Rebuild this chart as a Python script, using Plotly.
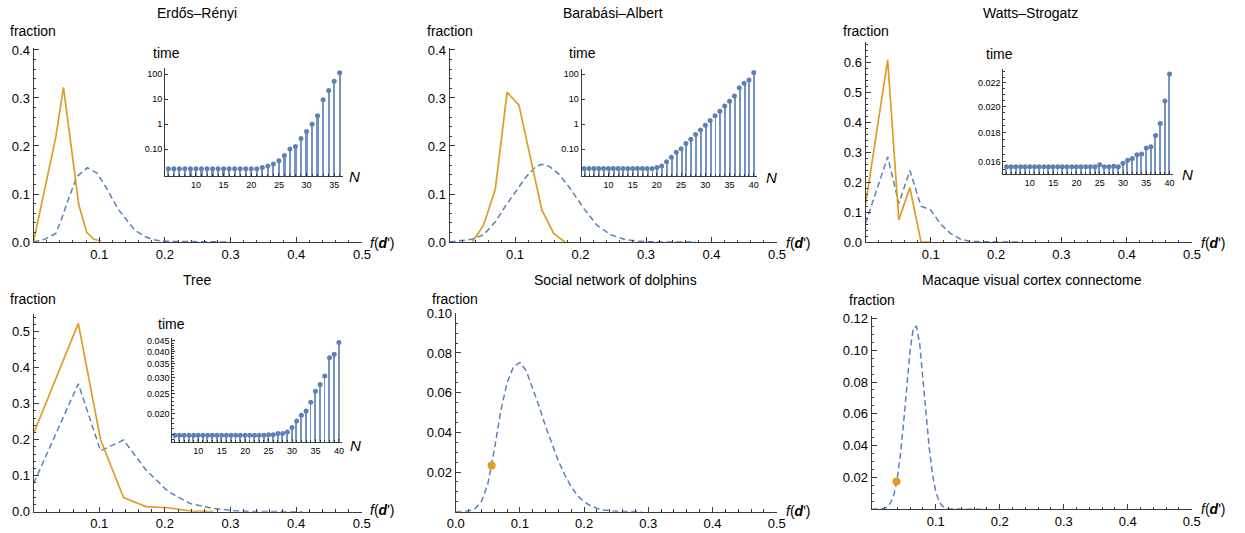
import plotly.graph_objects as go

W, H = 1245, 533

# ---------------- data ----------------
# Erdős–Rényi
er_x_solid = [0.0, 0.034, 0.0456, 0.069, 0.081, 0.092, 0.103]
er_y_solid = [0.0, 0.219, 0.322, 0.077, 0.020, 0.0056, 0.002]
er_x_dash = [0.0, 0.017, 0.034, 0.042, 0.051, 0.066, 0.082, 0.097, 0.113, 0.128, 0.144, 0.154, 0.17, 0.185, 0.2, 0.25, 0.3]
er_y_dash = [0.0, 0.0056, 0.018, 0.045, 0.081, 0.136, 0.155, 0.143, 0.108, 0.07, 0.042, 0.025, 0.011, 0.004, 0.0014, 0.0002, 0.0]
er_N = [5, 6, 7, 8, 9, 10, 11, 12, 13, 14, 15, 16, 17, 18, 19, 20, 21, 22, 23, 24, 25, 26, 27, 28, 29, 30, 31, 32, 33, 34, 35, 36]
er_time = [0.0169, 0.0169, 0.0169, 0.0169, 0.0169, 0.0169, 0.0169, 0.0169, 0.0169, 0.0169, 0.0169, 0.0169,
           0.0169, 0.0169, 0.0169, 0.0169, 0.0169, 0.019, 0.0216, 0.026, 0.035, 0.056, 0.103, 0.128,
           0.267, 0.51, 1.0, 2.15, 9.4, 22.0, 51.0, 112.0]

# Barabási–Albert
ba_x_solid = [0.035, 0.052, 0.070, 0.088, 0.106, 0.141, 0.159, 0.176]
ba_y_solid = [0.0, 0.035, 0.111, 0.312, 0.285, 0.067, 0.018, 0.0]
ba_x_dash = [0.0, 0.034, 0.052, 0.070, 0.085, 0.101, 0.117, 0.132, 0.141, 0.153, 0.168, 0.184, 0.205, 0.225, 0.246, 0.267, 0.288, 0.319, 0.376]
ba_y_dash = [0.0, 0.0056, 0.015, 0.042, 0.074, 0.105, 0.136, 0.157, 0.162, 0.157, 0.14, 0.112, 0.07, 0.035, 0.015, 0.0056, 0.0014, 0.0, 0.0]
ba_N = [5, 6, 7, 8, 9, 10, 11, 12, 13, 14, 15, 16, 17, 18, 19, 20, 21, 22, 23, 24, 25, 26, 27, 28, 29, 30,
        31, 32, 33, 34, 35, 36, 37, 38, 39, 40]
ba_time = [0.017, 0.017, 0.017, 0.017, 0.017, 0.017, 0.017, 0.017, 0.017, 0.017, 0.017, 0.017, 0.017, 0.017,
           0.017, 0.0185, 0.0215, 0.032, 0.048, 0.076, 0.106, 0.169, 0.25, 0.386, 0.59, 0.91, 1.4, 2.2,
           3.3, 5.4, 8.3, 13.6, 29.0, 44.0, 59.0, 117.0]

# Watts–Strogatz
ws_x_solid = [0.0, 0.034, 0.051, 0.068, 0.085, 0.10]
ws_y_solid = [0.124, 0.609, 0.074, 0.182, 0.0, 0.0]
ws_x_dash = [0.0, 0.034, 0.051, 0.068, 0.085, 0.10, 0.115, 0.13, 0.145, 0.16, 0.19, 0.235]
ws_y_dash = [0.062, 0.285, 0.129, 0.239, 0.12, 0.107, 0.06, 0.029, 0.01, 0.002, 0.0005, 0.0]
ws_N = [5, 6, 7, 8, 9, 10, 11, 12, 13, 14, 15, 16, 17, 18, 19, 20, 21, 22, 23, 24, 25, 26, 27, 28, 29, 30,
        31, 32, 33, 34, 35, 36, 37, 38, 39, 40]
ws_time = [0.01568, 0.01568, 0.01568, 0.01568, 0.01568, 0.01568, 0.01568, 0.01568, 0.01568, 0.01568,
           0.01568, 0.01568, 0.01568, 0.01568, 0.01568, 0.01568, 0.01568, 0.01568, 0.01568, 0.01568,
           0.0158, 0.01568, 0.01568, 0.0157, 0.01568, 0.0159, 0.01609, 0.0162, 0.01646, 0.0165,
           0.0169, 0.0170, 0.01778, 0.01867, 0.02043, 0.0228]

# Tree
tr_x_solid = [0.0, 0.068, 0.102, 0.137, 0.171, 0.205, 0.238, 0.274]
tr_y_solid = [0.218, 0.523, 0.199, 0.039, 0.014, 0.011, 0.002, 0.0]
tr_x_dash = [0.0, 0.068, 0.102, 0.137, 0.171, 0.205, 0.238, 0.274, 0.31, 0.34, 0.41]
tr_y_dash = [0.079, 0.355, 0.169, 0.199, 0.116, 0.056, 0.023, 0.009, 0.002, 0.0005, 0.0]
tr_N = [5, 6, 7, 8, 9, 10, 11, 12, 13, 14, 15, 16, 17, 18, 19, 20, 21, 22, 23, 24, 25, 26, 27, 28, 29, 30,
        31, 32, 33, 34, 35, 36, 37, 38, 39, 40]
tr_time = [0.0158, 0.0158, 0.0158, 0.0158, 0.0158, 0.0158, 0.0158, 0.0158, 0.0158, 0.0158,
           0.0158, 0.0158, 0.0158, 0.0158, 0.0158, 0.0158, 0.0158, 0.0158, 0.0158, 0.0158,
           0.0159, 0.0159, 0.0161, 0.0161, 0.01637, 0.01723, 0.01849, 0.0197, 0.02067, 0.02278,
           0.02576, 0.02774, 0.03046, 0.0374, 0.0388, 0.0443]

# Social network of dolphins
do_x = [0.0, 0.01, 0.02, 0.03, 0.04, 0.05, 0.06, 0.07, 0.08, 0.09, 0.10, 0.11, 0.12, 0.13, 0.14, 0.15,
        0.16, 0.17, 0.18, 0.19, 0.20, 0.21, 0.22, 0.23, 0.24, 0.25, 0.26, 0.27, 0.28, 0.29]
do_y = [0.0, 0.0, 0.0003, 0.0015, 0.005, 0.014, 0.031, 0.0505, 0.065, 0.073, 0.0752, 0.071, 0.0625,
        0.053, 0.043, 0.034, 0.0255, 0.0185, 0.0125, 0.008, 0.005, 0.003, 0.0017, 0.0009, 0.0004,
        0.0002, 0.0001, 0.0, 0.0, 0.0]
do_pt_x = [0.056]
do_pt_y = [0.0233]

# Macaque visual cortex connectome
mc_x = [0.0, 0.005, 0.01, 0.015, 0.02, 0.025, 0.03, 0.035, 0.04, 0.045, 0.05, 0.055, 0.06, 0.065,
        0.07, 0.075, 0.08, 0.085, 0.09, 0.095, 0.10, 0.105, 0.11, 0.115, 0.12, 0.13, 0.14, 0.15, 0.16, 0.18]
mc_y = [0.0, 0.0, 0.0, 0.0002, 0.0006, 0.0017, 0.0043, 0.0097, 0.0194, 0.035, 0.055, 0.079, 0.100,
        0.1137, 0.115, 0.104, 0.0837, 0.060, 0.038, 0.022, 0.0113, 0.0051, 0.0021, 0.0008, 0.0003,
        0.00005, 0.0, 0.0, 0.0, 0.0]
mc_pt_x = [0.0387]
mc_pt_y = [0.0174]

titles = ["Erdős–Rényi", "Barabási–Albert", "Watts–Strogatz", "Tree",
          "Social network of dolphins", "Macaque visual cortex connectome"]

# ---------------- style ----------------
BLUE = "#5E81B5"
STEM = "rgba(94,129,181,0.85)"
ORANGE = "#E19C24"
AX = "#3a3a3a"
FONT = "Liberation Sans"


def px(x):
    return x / W


def py(y):
    return 1 - y / H


fig = go.Figure()
layout = {}


def main_axes(n, x0, x1, ybot, ytop, yrange, yvals, ytext, xvals, xtext, yminor):
    sfx = "" if n == 1 else str(n)
    layout["xaxis" + sfx] = dict(
        domain=[px(x0), px(x1)], range=[0, 0.5], anchor="y" + sfx, automargin=False,
        showline=True, linecolor=AX, linewidth=1, ticks="inside", ticklen=5, tickwidth=1,
        tickcolor=AX, tickmode="array", tickvals=xvals, ticktext=xtext,
        minor=dict(tickmode="linear", tick0=0, dtick=0.02, ticks="inside", ticklen=2.5, tickcolor=AX),
        showgrid=False, zeroline=False, fixedrange=True,
        tickfont=dict(family=FONT, size=13, color="black"))
    layout["yaxis" + sfx] = dict(
        domain=[py(ybot), py(ytop)], range=yrange, anchor="x" + sfx, automargin=False,
        showline=True, linecolor=AX, linewidth=1, ticks="inside", ticklen=5, tickwidth=1,
        tickcolor=AX, tickmode="array", tickvals=yvals, ticktext=ytext,
        minor=dict(tickmode="linear", tick0=0, dtick=yminor, ticks="inside", ticklen=2.5, tickcolor=AX),
        showgrid=False, zeroline=False, fixedrange=True,
        tickfont=dict(family=FONT, size=13, color="black"))


def inset_axes(n, x0, x1, ybot, ytop, xrange, yrange, xvals, yvals, ytext, yminorvals):
    sfx = str(n)
    layout["xaxis" + sfx] = dict(
        domain=[px(x0), px(x1)], range=xrange, anchor="y" + sfx, automargin=False,
        showline=True, linecolor=AX, linewidth=1, ticks="inside", ticklen=3, tickcolor=AX,
        tickmode="array", tickvals=xvals, ticktext=[str(v) for v in xvals],
        minor=dict(tickmode="linear", tick0=0, dtick=1, ticks="inside", ticklen=2, tickcolor=AX),
        showgrid=False, zeroline=False, fixedrange=True,
        tickfont=dict(family=FONT, size=9, color="black"))
    yax = dict(
        domain=[py(ybot), py(ytop)], type="log", range=yrange, anchor="x" + sfx, automargin=False,
        showline=True, linecolor=AX, linewidth=1, ticks="inside", ticklen=3, tickcolor=AX,
        tickmode="array", tickvals=yvals, ticktext=ytext,
        showgrid=False, zeroline=False, fixedrange=True,
        tickfont=dict(family=FONT, size=9, color="black"))
    if yminorvals:
        yax["minor"] = dict(tickmode="array", tickvals=yminorvals, ticks="inside", ticklen=2, tickcolor=AX)
    layout["yaxis" + sfx] = yax


xv_std = [0.1, 0.2, 0.3, 0.4, 0.5]
xt_std = ["0.1", "0.2", "0.3", "0.4", "0.5"]

main_axes(1, 33.5, 362, 242, 48.3, [0, 0.4035], [0, 0.1, 0.2, 0.3, 0.4],
          ["0.0", "0.1", "0.2", "0.3", "0.4"], xv_std, xt_std, 0.02)
main_axes(2, 449.5, 777, 242, 48.3, [0, 0.4035], [0, 0.1, 0.2, 0.3, 0.4],
          ["0.0", "0.1", "0.2", "0.3", "0.4"], xv_std, xt_std, 0.02)
main_axes(3, 865.5, 1192, 242, 41.7, [0, 0.67], [0, 0.1, 0.2, 0.3, 0.4, 0.5, 0.6],
          ["0.0", "0.1", "0.2", "0.3", "0.4", "0.5", "0.6"], xv_std, xt_std, 0.02)
main_axes(4, 33.7, 361.7, 511.7, 314.3, [0, 0.548], [0, 0.1, 0.2, 0.3, 0.4, 0.5],
          ["0.0", "0.1", "0.2", "0.3", "0.4", "0.5"], xv_std, xt_std, 0.02)
main_axes(5, 455.7, 776.7, 511.7, 313.3, [0, 0.1], [0.02, 0.04, 0.06, 0.08, 0.10],
          ["0.02", "0.04", "0.06", "0.08", "0.10"], [0, 0.1, 0.2, 0.3, 0.4, 0.5],
          ["0.0", "0.1", "0.2", "0.3", "0.4", "0.5"], 0.005)
main_axes(6, 871.7, 1191.7, 509.3, 315.7, [0, 0.1217], [0.02, 0.04, 0.06, 0.08, 0.10, 0.12],
          ["0.02", "0.04", "0.06", "0.08", "0.10", "0.12"], xv_std, xt_std, 0.005)

ws_minor = [0.0155 + 0.0005 * i for i in range(16)]
tr_minor = [0.015 + 0.001 * i for i in range(31)]
inset_axes(7, 165, 343, 176, 68, [4.4, 36.6], [-2.064, 2.24], [10, 15, 20, 25, 30, 35],
           [0.1, 1, 10, 100], ["0.10", "1", "10", "100"], None)
inset_axes(8, 581.5, 756.7, 176, 69.3, [4.45, 40.6], [-2.07, 2.2], [10, 15, 20, 25, 30, 35, 40],
           [0.1, 1, 10, 100], ["0.10", "1", "10", "100"], None)
inset_axes(9, 1003.3, 1173.3, 174.3, 69.3, [4.3, 40.8], [-1.818, -1.634], [10, 15, 20, 25, 30, 35, 40],
           [0.016, 0.018, 0.020, 0.022], ["0.016", "0.018", "0.020", "0.022"], ws_minor)
inset_axes(10, 172.3, 341.7, 441.7, 337.7, [4.46, 40.6], [-1.8326, -1.331], [10, 15, 20, 25, 30, 35, 40],
           [0.020, 0.025, 0.030, 0.035, 0.040, 0.045],
           ["0.020", "0.025", "0.030", "0.035", "0.040", "0.045"], tr_minor)


def ref(n):
    return ("x", "y") if n == 1 else ("x" + str(n), "y" + str(n))


def dashed(n, x, y):
    xr, yr = ref(n)
    fig.add_trace(go.Scatter(x=x, y=y, xaxis=xr, yaxis=yr, mode="lines",
                             line=dict(color=BLUE, width=1.5, dash="6px,3.5px"),
                             showlegend=False))


def solid(n, x, y):
    xr, yr = ref(n)
    fig.add_trace(go.Scatter(x=x, y=y, xaxis=xr, yaxis=yr, mode="lines",
                             line=dict(color=ORANGE, width=1.7), showlegend=False))


def dot(n, x, y):
    xr, yr = ref(n)
    fig.add_trace(go.Scatter(x=x, y=y, xaxis=xr, yaxis=yr, mode="markers",
                             marker=dict(color=ORANGE, size=8), showlegend=False))


def stems(n, N, t):
    xr, yr = ref(n)
    fig.add_trace(go.Bar(x=N, y=t, xaxis=xr, yaxis=yr, width=0.4,
                         marker=dict(color=STEM, line=dict(width=0)), showlegend=False))
    fig.add_trace(go.Scatter(x=N, y=t, xaxis=xr, yaxis=yr, mode="markers",
                             marker=dict(color=BLUE, size=5), showlegend=False))


dashed(1, er_x_dash, er_y_dash)
solid(1, er_x_solid, er_y_solid)
dashed(2, ba_x_dash, ba_y_dash)
solid(2, ba_x_solid, ba_y_solid)
dashed(3, ws_x_dash, ws_y_dash)
solid(3, ws_x_solid, ws_y_solid)
dashed(4, tr_x_dash, tr_y_dash)
solid(4, tr_x_solid, tr_y_solid)
dashed(5, do_x, do_y)
dot(5, do_pt_x, do_pt_y)
dashed(6, mc_x, mc_y)
dot(6, mc_pt_x, mc_pt_y)
stems(7, er_N, er_time)
stems(8, ba_N, ba_time)
stems(9, ws_N, ws_time)
stems(10, tr_N, tr_time)

annotations = []


def txt(x, y, s, size=14, xanchor="center"):
    annotations.append(dict(x=px(x), y=py(y), xref="paper", yref="paper", text=s, showarrow=False,
                            xanchor=xanchor, yanchor="middle",
                            font=dict(family=FONT, size=size, color="black")))


# titles
for (cx, cy), t in zip([(197, 13), (613, 13), (1030, 13), (197, 280), (615, 280), (1032, 280)], titles):
    txt(cx, cy, t, 14)
# fraction labels
for cx, cy in [(33, 31), (450, 31), (866, 31), (33, 299), (455, 299), (872, 300)]:
    txt(cx, cy, "fraction", 14)
# f(d') labels
for cx, cy in [(382, 243), (798, 243), (1213, 243), (382, 510), (798, 511), (1213, 509)]:
    txt(cx, cy, "<i>f</i>(<b><i>d</i></b>')", 14)
# inset labels
for cx, cy in [(166, 53), (582, 53), (999, 54), (171, 324)]:
    txt(cx, cy, "time", 14)
for cx, cy in [(354, 176), (771, 177), (1187, 175), (355, 445)]:
    txt(cx, cy, "<i>N</i>", 15)

fig.update_layout(**layout)
fig.update_layout(width=W, height=H, margin=dict(l=0, r=0, t=0, b=0, pad=0, autoexpand=False),
                  autosize=False,
                  paper_bgcolor="white", plot_bgcolor="white", annotations=annotations,
                  showlegend=False, bargap=0, font=dict(family=FONT, color="black"))

fig.write_html("out.html", config={"responsive": False, "displayModeBar": False},
               post_script="document.body.style.margin='0px';document.body.style.padding='0px';"
                           "document.documentElement.style.overflow='hidden';")
